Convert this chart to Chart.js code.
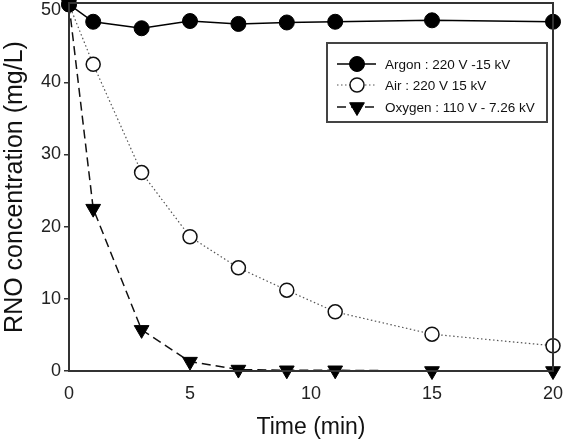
<!DOCTYPE html>
<html>
<head>
<meta charset="utf-8">
<script src="https://cdn.jsdelivr.net/npm/chart.js@4/dist/chart.umd.min.js"></script>
<style>
html,body{margin:0;padding:0;background:#fff;}
#wrap{width:571px;height:441px;position:relative;}
</style>
</head>
<body>
<div id="wrap"><canvas id="c" width="571" height="441"></canvas></div>
<script>
const timeMin = [0, 1, 3, 5, 7, 9, 11, 15, 20];
const argonVals = [50.8, 48.4, 47.5, 48.5, 48.1, 48.3, 48.4, 48.6, 48.4];
const airVals = [50.8, 42.5, 27.5, 18.6, 14.3, 11.2, 8.2, 5.1, 3.5];
const oxygenVals = [50.8, 22.5, 5.7, 1.3, 0.2, 0.1, 0.1, 0.0, 0.0];
const seriesNames = ['Argon : 220 V -15 kV', 'Air : 220 V 15 kV', 'Oxygen : 110 V - 7.26 kV'];
const xTicks = [0, 5, 10, 15, 20];
const yTicks = [0, 10, 20, 30, 40, 50];

const FONT = "Arial, 'Liberation Sans', Helvetica, sans-serif";

function pts(vals){ return timeMin.map((t,i)=>({x:t, y:vals[i]})); }

const frame = {
  id:'frame',
  afterDatasetsDraw(chart){
    const {ctx, chartArea:a} = chart;
    ctx.save();
    ctx.strokeStyle = '#333';
    ctx.lineWidth = 2;
    ctx.strokeRect(a.left, a.top, a.right - a.left, a.bottom - a.top);
    ctx.restore();
  }
};

const legendBox = {
  id:'legendBox',
  afterDraw(chart){
    const ctx = chart.ctx;
    const bx = 327, by = 43, bw = 220, bh = 79;
    ctx.save();
    ctx.fillStyle = '#fff';
    ctx.fillRect(bx, by, bw, bh);
    ctx.strokeStyle = '#444';
    ctx.lineWidth = 2;
    ctx.strokeRect(bx, by, bw, bh);
    const rows = [64, 85, 107];
    chart.data.datasets.forEach((ds, i) => {
      const y = rows[i];
      ctx.save();
      ctx.strokeStyle = ds.borderColor;
      ctx.lineWidth = ds.borderWidth;
      ctx.setLineDash(ds.borderDash || []);
      ctx.beginPath();
      ctx.moveTo(337, y);
      ctx.lineTo(376, y);
      ctx.stroke();
      ctx.restore();
      ctx.save();
      ctx.fillStyle = ds.pointBackgroundColor;
      ctx.strokeStyle = ds.pointBorderColor;
      ctx.lineWidth = ds.pointBorderWidth;
      Chart.helpers.drawPoint(ctx, {
        pointStyle: ds.pointStyle,
        rotation: ds.pointRotation || 0,
        radius: ds.pointRadius,
        borderWidth: ds.pointBorderWidth
      }, 357, y);
      ctx.restore();
      ctx.fillStyle = '#111';
      ctx.font = '13.5px ' + FONT;
      ctx.textBaseline = 'middle';
      ctx.textAlign = 'left';
      ctx.fillText(ds.label, 385, y + 1);
    });
    ctx.restore();
  }
};

new Chart(document.getElementById('c'), {
  type: 'line',
  data: {
    datasets: [
      {
        label: seriesNames[0], data: pts(argonVals),
        borderColor: '#000', borderWidth: 1.5,
        pointStyle: 'circle', pointRadius: 7.5,
        pointBackgroundColor: '#000', pointBorderColor: '#000', pointBorderWidth: 1,
        tension: 0, clip: false
      },
      {
        label: seriesNames[1], data: pts(airVals),
        borderColor: '#555', borderWidth: 1.2, borderDash: [1.5, 2.5],
        pointStyle: 'circle', pointRadius: 7,
        pointBackgroundColor: '#fff', pointBorderColor: '#111', pointBorderWidth: 1.5,
        tension: 0, clip: false
      },
      {
        label: seriesNames[2], data: pts(oxygenVals),
        borderColor: '#111', borderWidth: 1.5, borderDash: [9, 5],
        pointStyle: 'triangle', pointRotation: 180, pointRadius: 8.5,
        pointBackgroundColor: '#000', pointBorderColor: '#000', pointBorderWidth: 1,
        tension: 0, clip: false
      }
    ]
  },
  options: {
    responsive: false,
    animation: false,
    devicePixelRatio: 1,
    layout: { autoPadding: false, padding: { top: 3, right: 18, left: 0, bottom: 0 } },
    plugins: { legend: { display: false }, tooltip: { enabled: false } },
    scales: {
      x: {
        type: 'linear', min: 0, max: 20,
        afterBuildTicks(s){ s.ticks = xTicks.map(v => ({value: v})); },
        afterFit(s){ s.height = 70; s.paddingLeft = 0; s.paddingRight = 0; },
        grid: { display: false },
        border: { display: false },
        ticks: { color: '#222', font: { family: FONT, size: 18 }, padding: 4, maxRotation: 0 },
        title: { display: true, text: 'Time (min)', color: '#111', font: { family: FONT, size: 23 }, padding: { top: 0, bottom: 0 } }
      },
      y: {
        type: 'linear', min: 0, max: 51,
        afterBuildTicks(s){ s.ticks = yTicks.map(v => ({value: v})); },
        afterFit(s){ s.width = 69; s.paddingTop = 0; s.paddingBottom = 0; },
        grid: { drawOnChartArea: false, drawTicks: true, tickLength: 5, color: '#333', lineWidth: 1.5 },
        border: { display: false },
        ticks: { color: '#222', font: { family: FONT, size: 18 }, padding: 3 },
        title: { display: true, text: 'RNO concentration (mg/L)', color: '#111', font: { family: FONT, size: 25 }, padding: { top: 0, bottom: 0 } }
      }
    }
  },
  plugins: [frame, legendBox]
});
</script>
</body>
</html>
